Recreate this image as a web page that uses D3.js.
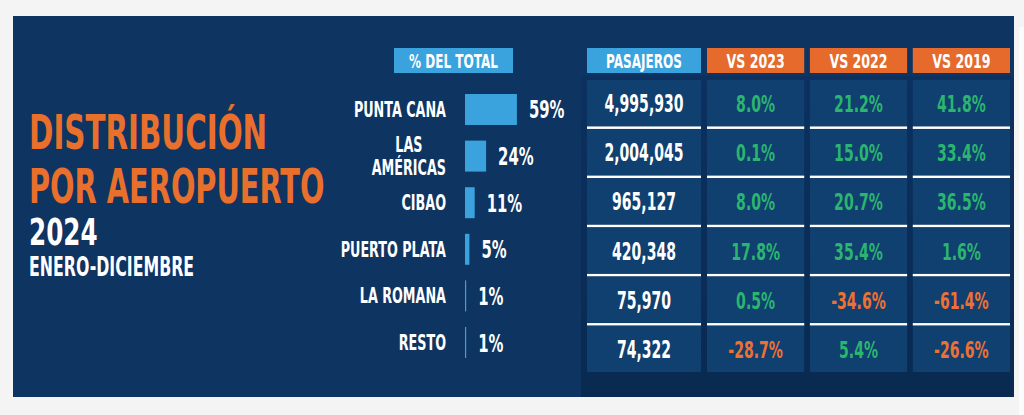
<!DOCTYPE html>
<html>
<head>
<meta charset="utf-8">
<script src="https://cdn.jsdelivr.net/npm/d3@7"></script>
<style>
  html, body { margin: 0; padding: 0; background: #f4f4f4; }
  svg { display: block; }
  text { font-family: 'DejaVu Sans Condensed', 'DejaVu Sans', sans-serif; font-weight: bold; }
</style>
</head>
<body>
<svg id="chart" width="1024" height="415"></svg>
<script>
// ---------- DATA ----------
const airports   = ["PUNTA CANA", "LAS\nAMÉRICAS", "CIBAO", "PUERTO PLATA", "LA ROMANA", "RESTO"];
const shareTotal = [59, 24, 11, 5, 1, 1];
const passengers = [4995930, 2004045, 965127, 420348, 75970, 74322];
const vs2023     = [8.0, 0.1, 8.0, 17.8, 0.5, -28.7];
const vs2022     = [21.2, 15.0, 20.7, 35.4, -34.6, 5.4];
const vs2019     = [41.8, 33.4, 36.5, 1.6, -61.4, -26.6];
const compareHeaders = ["VS 2023", "VS 2022", "VS 2019"];
const compareSeries  = [vs2023, vs2022, vs2019];
const titleLines = ["DISTRIBUCIÓN", "POR AEROPUERTO"];
const yearLabel  = "2024";
const periodLabel = "ENERO-DICIEMBRE";
const shareHeader = "% DEL TOTAL";
const passHeader  = "PASAJEROS";

// ---------- STYLE ----------
const C = {
  page: "#f4f4f4", panel: "#0e3461", cell: "#10406f",
  orange: "#e8702c", headOrange: "#e56a2c", blue: "#3aa2dd",
  green: "#2bb56f", neg: "#ee7133", white: "#ffffff"
};

const svg = d3.select("#chart");

function label(parent, x, y, str, size, sx, anchor, fill) {
  const g = parent.append("g").attr("transform", `translate(${x},${y})`);
  const t = g.append("text")
    .attr("transform", `scale(${sx},1)`)
    .attr("text-anchor", anchor)
    .attr("font-size", size)
    .attr("fill", fill)
    .text(str);
  return t;
}

// page + panel
svg.append("rect").attr("width", 1024).attr("height", 415).attr("fill", C.page);
svg.append("rect").attr("x", 1019).attr("y", 27).attr("width", 5).attr("height", 388).attr("fill", "#fbfbfb");
svg.append("rect").attr("x", 13).attr("y", 16).attr("width", 1001).attr("height", 381).attr("fill", C.panel);

const defs = svg.append("defs");
const grad = defs.append("linearGradient").attr("id", "tbg").attr("x1", 0).attr("y1", 0).attr("x2", 0).attr("y2", 1);
grad.append("stop").attr("offset", 0).attr("stop-color", "#0c3060");
grad.append("stop").attr("offset", 1).attr("stop-color", "#092a50");
svg.append("rect").attr("x", 581).attr("y", 76).attr("width", 433).attr("height", 321).attr("fill", "url(#tbg)");

// ---------- TITLE ----------
label(svg, 29, 149, titleLines[0], 48, 0.68, "start", C.orange);
label(svg, 29, 203, titleLines[1], 48, 0.667, "start", C.orange);
label(svg, 29, 245, yearLabel, 37, 0.74, "start", C.white);
label(svg, 29, 276, periodLabel, 27, 0.65, "start", C.white);

// ---------- BAR SECTION ----------
const idx = d3.range(airports.length);
const yBar = d3.scaleBand().domain(idx).range([94, 358]).paddingInner(0.335).paddingOuter(0);
const xBar = d3.scaleLinear().domain([0, 100]).range([0, 88]);
const barX0 = 465;

// header
svg.append("rect").attr("x", 394).attr("y", 48).attr("width", 119).attr("height", 25).attr("fill", C.blue);
label(svg, 453.5, 67.5, shareHeader, 20, 0.67, "middle", C.white);

svg.append("g").selectAll("rect").data(idx).join("rect")
  .attr("x", barX0)
  .attr("y", i => yBar(i))
  .attr("width", i => Math.max(1.2, xBar(shareTotal[i])))
  .attr("height", yBar.bandwidth())
  .attr("fill", C.blue);

const nameSx = 0.66;
idx.forEach(i => {
  const cy = yBar(i) + yBar.bandwidth() / 2;
  label(svg, barX0 + Math.max(1.2, xBar(shareTotal[i])) + 12, cy + 9, shareTotal[i] + "%", 25, 0.66, "start", C.white);
  const lines = airports[i].split("\n");
  if (lines.length === 1) {
    label(svg, 446, cy + 7.5, lines[0], 21.5, nameSx, "end", C.white);
  } else {
    const n = lines.length;
    const last = label(svg, 446, cy + 7.5 + ((n - 1) / 2) * 23, lines[n - 1], 21.5, nameSx, "end", C.white);
    const w = last.node().getComputedTextLength() * nameSx;
    lines.slice(0, -1).forEach((ln, k) => {
      label(svg, 446 - w / 2, cy + 7.5 + (k - (n - 1) / 2) * 23, ln, 21.5, nameSx, "middle", C.white);
    });
  }
});

// ---------- TABLE ----------
const yRow = d3.scaleBand().domain(idx).range([80, 372]).paddingInner(0.06).paddingOuter(0);
const xCmp = d3.scaleBand().domain(compareHeaders).range([707, 1010]).paddingInner(0.055).paddingOuter(0);
const passX = 587, passW = 114;
const headY = 48, headH = 25;

svg.append("rect").attr("x", passX).attr("y", headY).attr("width", passW).attr("height", headH).attr("fill", C.blue);
label(svg, passX + passW / 2, headY + 19.5, passHeader, 20, 0.67, "middle", C.white);
compareHeaders.forEach(h => {
  svg.append("rect").attr("x", xCmp(h)).attr("y", headY).attr("width", xCmp.bandwidth()).attr("height", headH).attr("fill", C.headOrange);
  label(svg, xCmp(h) + xCmp.bandwidth() / 2, headY + 19.5, h, 20, 0.70, "middle", C.white);
});

const loc = d3.formatLocale({ decimal: ".", thousands: ",", grouping: [3], currency: ["$", ""], minus: "-" });
const fmtN = loc.format(",");
const fmtP = d => loc.format(".1f")(d) + "%";

idx.forEach(i => {
  const y0 = yRow(i), bh = yRow.bandwidth();
  const base = y0 + bh / 2 + 9;
  svg.append("rect").attr("x", passX).attr("y", y0).attr("width", passW).attr("height", bh).attr("fill", C.cell);
  label(svg, passX + passW / 2, base, fmtN(passengers[i]), 24, 0.65, "middle", C.white);
  compareHeaders.forEach((h, j) => {
    const v = compareSeries[j][i];
    svg.append("rect").attr("x", xCmp(h)).attr("y", y0).attr("width", xCmp.bandwidth()).attr("height", bh).attr("fill", C.cell);
    label(svg, xCmp(h) + xCmp.bandwidth() / 2, base, fmtP(v), 23, 0.68, "middle", v < 0 ? C.neg : C.green);
  });
  if (i < idx.length - 1) {
    const sy = y0 + bh + (yRow.step() - bh) / 2;
    svg.append("rect").attr("x", passX).attr("y", sy - 1.25).attr("width", passW).attr("height", 2.5).attr("fill", C.white);
    compareHeaders.forEach(h => {
      svg.append("rect").attr("x", xCmp(h)).attr("y", sy - 1.25).attr("width", xCmp.bandwidth()).attr("height", 2.5).attr("fill", C.white);
    });
  }
});
</script>
</body>
</html>
